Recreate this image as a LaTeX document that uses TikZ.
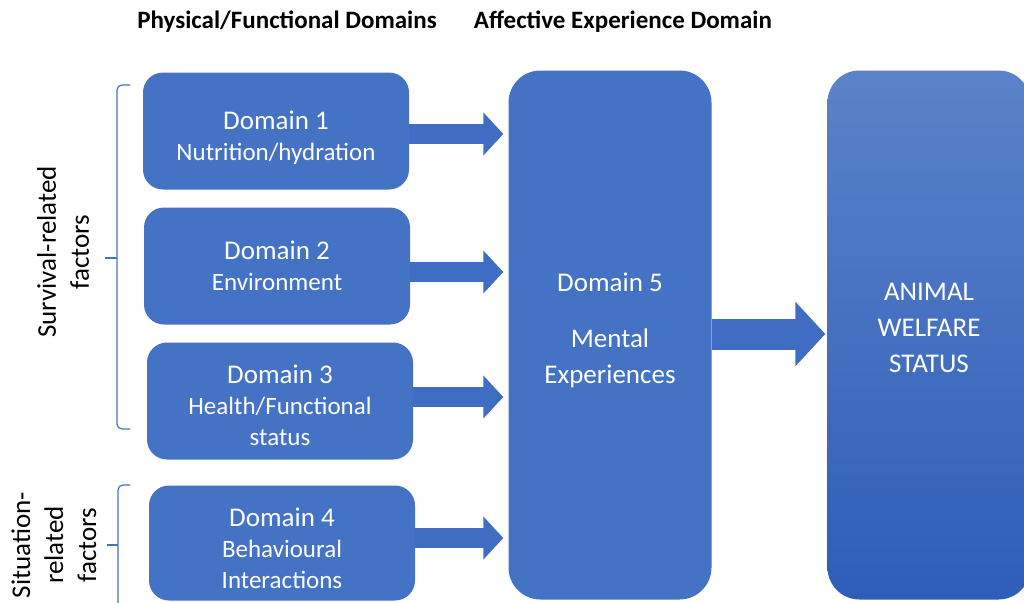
\documentclass[tikz,border=0pt]{standalone}
\usepackage{fontspec}
\setmainfont{Carlito}
\usetikzlibrary{arrows.meta}
\definecolor{dblue}{HTML}{4472C4}
\definecolor{ablue}{HTML}{3F6DC4}
\definecolor{wtop}{HTML}{5B82C9}
\definecolor{wbot}{HTML}{2E5EB9}
\begin{document}
\begin{tikzpicture}[x=1pt,y=-1pt,
    dom/.style={fill=dblue,rounded corners=20pt,text=white,align=center,
        minimum width=266pt,minimum height=117pt,font=\fontsize{25}{31}\selectfont},
    big/.style={rounded corners=32pt,text=white,align=center,minimum width=203pt,
        minimum height=529pt,font=\fontsize{27}{36}\selectfont},
    flow/.style={ablue,line width=20pt,-{Triangle[width=42pt,length=20pt]},shorten >=5pt},
    brace/.style={dblue,line width=1.2pt,rounded corners=5pt},
    head/.style={font=\bfseries\fontsize{25}{30}\selectfont},
    side/.style={rotate=90,align=center,font=\fontsize{27}{33}\selectfont}]
\useasboundingbox (0,0) rectangle (1024,602);

\node[head] at (287,22) {Physical/Functional Domains};
\node[head] at (623,22) {Affective Experience Domain};

\node (d1) [dom] at (276,131) {{\fontsize{27}{31}\selectfont Domain 1}\\Nutrition/hydration\\[-40pt]};
\node (d2) [dom] at (277,266) {{\fontsize{27}{31}\selectfont Domain 2}\\Environment};
\node (d3) [dom] at (280,401) {{\fontsize{27}{31}\selectfont Domain 3}\\Health/Functional\\status\\[-40pt]};
\node (d4) [dom,minimum height=115pt] at (282,543) {{\fontsize{27}{31}\selectfont Domain 4}\\Behavioural\\Interactions\\[-41pt]};

\node (d5) [big,fill=dblue] at (610,335) {Domain 5\\[20pt]Mental\\Experiences\\[-22pt]};
\node (aw) [big,top color=wtop,bottom color=wbot] at (929,335) {ANIMAL\\WELFARE\\STATUS\\[-22pt]};

\draw[flow] ([yshift=-3pt]d1.east) -- ([yshift=-3pt]d1.east -| d5.west);
\draw[flow] ([yshift=-6pt]d2.east) -- ([yshift=-6pt]d2.east -| d5.west);
\draw[flow] ([yshift=4pt]d3.east) -- ([yshift=4pt]d3.east -| d5.west);
\draw[flow] ([yshift=5pt]d4.east) -- ([yshift=5pt]d4.east -| d5.west);
\draw[ablue,line width=31pt,-{Triangle[width=63pt,length=30pt]},shorten >=2pt]
    ([yshift=1pt]d5.east) -- ([yshift=1pt]d5.east -| aw.west);

\coordinate (s1) at (130,85);
\coordinate (s2) at (130,429);
\draw[brace] (s1) -- (117,85) -- (117,429) -- (s2);
\draw[brace] (117,258) -- (105,258);
\coordinate (t1) at (130,485);
\draw[brace] (t1) -- (118,485) -- (118,610);
\draw[brace] (118,545) -- (107,545);

\node (sv) [side] at (63,252) {Survival-related\\factors};
\node (st) [side] at (54,545) {Situation-\\related\\factors};
\end{tikzpicture}
\end{document}
